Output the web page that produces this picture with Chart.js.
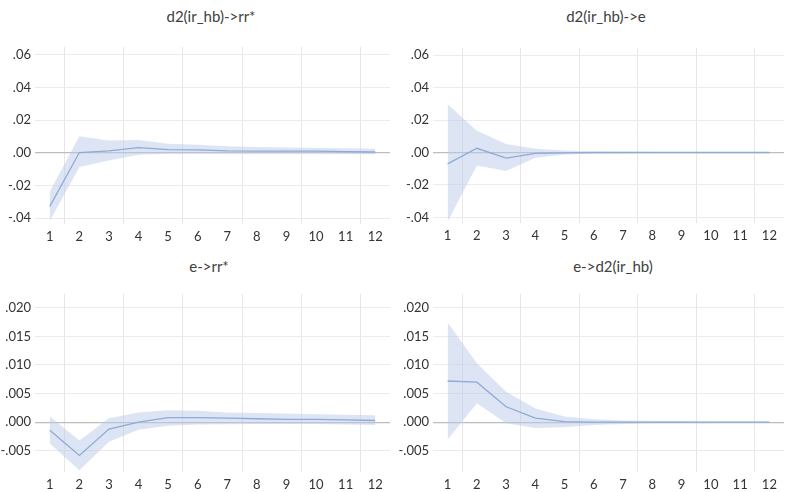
<!DOCTYPE html>
<html>
<head>
<meta charset="utf-8">
<script src="https://cdn.jsdelivr.net/npm/chart.js@4/dist/chart.umd.min.js"></script>
<style>
    body { margin: 0; background: #fff; width: 787px; height: 492px; position: relative; overflow: hidden; }
    .panel { position: absolute; }
    .ttl { position: absolute; font-family: Lato, "Open Sans", sans-serif; font-size: 15px; color: #404040; transform: translateX(-50%); white-space: nowrap; }
</style>
</head>
<body>
<div class="ttl" style="left:211px; top:7px;">d2(ir_hb)-&gt;rr*</div>
<div class="ttl" style="left:606px; top:7px;">d2(ir_hb)-&gt;e</div>
<div class="ttl" style="left:209px; top:257px;">e-&gt;rr*</div>
<div class="ttl" style="left:613px; top:257px;">e-&gt;d2(ir_hb)</div>

<div class="panel" style="left:0; top:0;"><canvas id="c1" width="393" height="250"></canvas></div>
<div class="panel" style="left:393px; top:0;"><canvas id="c2" width="394" height="250"></canvas></div>
<div class="panel" style="left:0; top:250px;"><canvas id="c3" width="393" height="242"></canvas></div>
<div class="panel" style="left:393px; top:250px;"><canvas id="c4" width="394" height="242"></canvas></div>

<script>
// 기간 (x축)
const periods = [1, 2, 3, 4, 5, 6, 7, 8, 9, 10, 11, 12];
const gridAt = [1.5, 3.5, 5.5, 7.5, 9.5, 11.5];

// y축 눈금
const yTicksBig = [-0.04, -0.02, 0, 0.02, 0.04, 0.06];
const yTicksSmall = [-0.005, 0, 0.005, 0.010, 0.015, 0.020];

// d2(ir_hb)->rr*
const resp1 = [-0.0327, 0.0002, 0.0012, 0.0032, 0.002, 0.0018, 0.0012, 0.001, 0.001, 0.001, 0.0008, 0.0005];
const up1   = [-0.0236, 0.0102, 0.0075, 0.0078, 0.0055, 0.005, 0.004, 0.0035, 0.0032, 0.003, 0.0028, 0.0025];
const lo1   = [-0.0416, -0.0086, -0.0047, -0.0012, -0.0006, -0.0005, -0.0005, -0.0005, -0.0005, -0.0006, -0.0007, -0.0008];

// d2(ir_hb)->e
const resp2 = [-0.007, 0.0026, -0.0035, -0.0005, -0.0002, 0, 0, 0, 0, 0, 0, 0];
const up2   = [0.0298, 0.0135, 0.0053, 0.0023, 0.0012, 0.0007, 0.0005, 0.0003, 0.0003, 0.0002, 0.0002, 0.0002];
const lo2   = [-0.0426, -0.008, -0.0114, -0.0033, -0.0012, -0.0006, -0.0004, -0.0002, -0.0002, -0.0002, -0.0002, -0.0002];

// e->rr*
const resp3 = [-0.0014, -0.0058, -0.0012, 0, 0.0008, 0.0008, 0.0007, 0.0006, 0.0005, 0.0005, 0.0004, 0.0003];
const up3   = [0.001, -0.0032, 0.0007, 0.0017, 0.0021, 0.002, 0.0017, 0.0016, 0.0015, 0.0014, 0.0013, 0.0012];
const lo3   = [-0.0037, -0.0084, -0.0034, -0.0013, -0.0006, -0.0004, -0.00035, -0.0003, -0.0003, -0.0003, -0.0004, -0.0005];

// e->d2(ir_hb)
const resp4 = [0.0072, 0.007, 0.0027, 0.0007, 0.0001, 0, 0, 0, 0, 0, 0, 0];
const up4   = [0.0174, 0.0103, 0.0053, 0.0024, 0.001, 0.0005, 0.0003, 0.0002, 0.0002, 0.0001, 0.0001, 0.0001];
const lo4   = [-0.003, 0.0033, -0.0002, -0.001, -0.0009, -0.0005, -0.0003, -0.0002, -0.0002, -0.0002, -0.0001, -0.0001];

const FONT = { family: 'Lato, "Open Sans", sans-serif', size: 13 };

function pts(arr) {
    return periods.map((p, i) => ({ x: p, y: arr[i] }));
}

function fmt(v, digits) {
    return v.toFixed(digits).replace('0.', '.');
}

function makeChart(id, resp, up, lo, yTicks, yMin, yMax, digits, yWidth, padTop, xHeight) {
    return new Chart(document.getElementById(id).getContext('2d'), {
        type: 'line',
        data: {
            datasets: [
                { data: pts(resp), borderColor: '#8eaad8', borderWidth: 1.3, pointRadius: 0, fill: false, order: 0 },
                { data: pts(up), borderWidth: 0, borderColor: 'rgba(0,0,0,0)', pointRadius: 0, backgroundColor: 'rgba(187,204,233,0.5)', fill: '+1', order: 1 },
                { data: pts(lo), borderWidth: 0, borderColor: 'rgba(0,0,0,0)', pointRadius: 0, fill: false, order: 2 }
            ]
        },
        options: {
            responsive: false,
            animation: false,
            layout: { padding: { top: padTop, right: 3, left: 0, bottom: 0 } },
            plugins: { legend: { display: false }, tooltip: { enabled: false } },
            scales: {
                x: {
                    type: 'linear', min: 0.5, max: 12.5,
                    afterBuildTicks: s => { s.ticks = periods.map(v => ({ value: v })); },
                    afterFit: s => { s.height = xHeight; },
                    grid: { display: false, drawTicks: false },
                    border: { display: false },
                    ticks: { color: '#333', font: FONT, padding: 5, maxRotation: 0, autoSkip: false }
                },
                xg: {
                    type: 'linear', position: 'bottom', min: 0.5, max: 12.5,
                    afterBuildTicks: s => { s.ticks = gridAt.map(v => ({ value: v })); },
                    afterFit: s => { s.height = 0; },
                    grid: { color: '#e6e6e6', drawTicks: false },
                    border: { display: false },
                    ticks: { display: false }
                },
                y: {
                    min: yMin, max: yMax,
                    afterBuildTicks: s => { s.ticks = yTicks.map(v => ({ value: v })); },
                    afterFit: s => { s.width = yWidth; },
                    grid: {
                        drawTicks: false,
                        color: c => Math.abs(c.tick.value) < 1e-9 ? '#bdbdbd' : '#ebebeb',
                        lineWidth: c => Math.abs(c.tick.value) < 1e-9 ? 1.3 : 1
                    },
                    border: { display: false },
                    ticks: { color: '#333', font: FONT, padding: 4, callback: v => fmt(v, digits) }
                }
            }
        }
    });
}

makeChart('c1', resp1, up1, lo1, yTicksBig, -0.0435, 0.0647, 2, 35, 47, 26);
makeChart('c2', resp2, up2, lo2, yTicksBig, -0.0435, 0.0645, 2, 40, 48, 27);
makeChart('c3', resp3, up3, lo3, yTicksSmall, -0.0087, 0.0224, 3, 35, 44, 20);
makeChart('c4', resp4, up4, lo4, yTicksSmall, -0.0087, 0.0224, 3, 40, 44, 20);
</script>
</body>
</html>
